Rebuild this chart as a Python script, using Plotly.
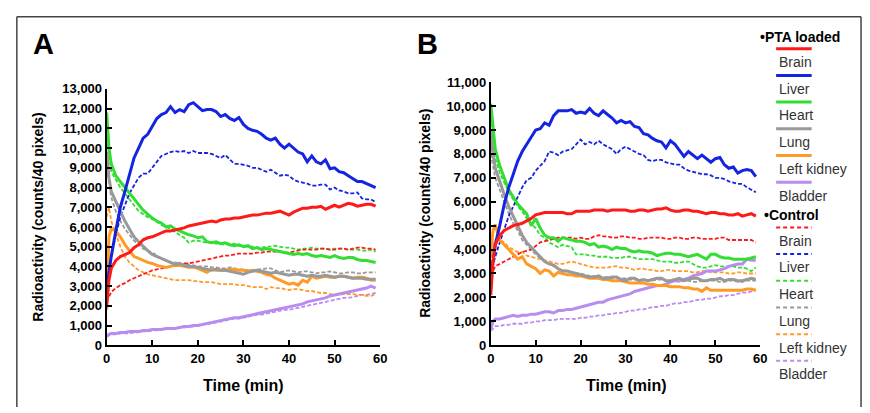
import plotly.graph_objects as go

# time points (min), shared by all curves
T = [0, 0.5] + list(range(1, 60))

organs = ["Brain", "Liver", "Heart", "Lung", "Left kidney", "Bladder"]
colors = ["#ff1a1a", "#1424e0", "#33dd33", "#999999", "#ff9a26", "#b98cf0"]

# ---- panel A ----
a_brain_pta = [2000, 3300,
    3900, 4300, 4500, 4600, 4700, 4950, 5100, 5350, 5450, 5500,
    5600, 5700, 5800, 5800, 5850, 5900, 5950, 6050, 6100, 6150,
    6200, 6250, 6300, 6250, 6350, 6400, 6400, 6450, 6450, 6500,
    6550, 6600, 6600, 6650, 6700, 6700, 6750, 6800, 6700, 6600,
    6750, 6850, 6950, 6950, 7000, 7000, 7050, 6900, 7000, 7100,
    7000, 7100, 7200, 7150, 7050, 7100, 7150, 7150, 7050]
a_liver_pta = [2900, 3800,
    4500, 5800, 7000, 7800, 8700, 9500, 10000, 10500, 10700, 11100,
    11500, 11700, 11800, 12100, 11800, 11950, 11850, 12200, 12300, 12100,
    11900, 11950, 11950, 11850, 11600, 11700, 11500, 11400, 11550, 11200,
    11000, 10900, 10850, 10700, 10500, 10400, 10500, 10200, 10000, 10200,
    10000, 9800, 9700, 9300, 9600, 9300, 9200, 9400, 8950, 9000,
    8800, 8750, 8600, 8450, 8300, 8300, 8200, 8100, 8000]
a_heart_pta = [11800, 10000,
    9200, 8600, 8300, 8000, 7700, 7400, 7100, 6850, 6650, 6450,
    6300, 6200, 6000, 6050, 5900, 5800, 5700, 5600, 5550, 5450,
    5500, 5250, 5200, 5250, 5150, 5200, 5100, 5050, 5100, 5000,
    5050, 4900, 4950, 4850, 4900, 4850, 4800, 4750, 4700, 4650,
    4600, 4650, 4600, 4650, 4550, 4500, 4550, 4500, 4450, 4550,
    4450, 4400, 4450, 4450, 4350, 4300, 4300, 4250, 4200]
a_lung_pta = [9800, 8500,
    7800, 7300, 6800, 6300, 5900, 5500, 5250, 5000, 4800, 4600,
    4500, 4400, 4300, 4200, 4100, 4150, 4050, 4000, 4000, 3950,
    3900, 3850, 3800, 3850, 3800, 3800, 3750, 3700, 3650, 3600,
    3700, 3750, 3800, 3750, 3700, 3650, 3700, 3650, 3600, 3550,
    3600, 3600, 3550, 3500, 3550, 3500, 3500, 3550, 3500, 3450,
    3500, 3500, 3450, 3400, 3400, 3400, 3350, 3350, 3350]
a_kidney_pta = [1800, 5500,
    5900, 5800, 5500, 5100, 4800, 4500, 4400, 4300, 4200, 4150,
    4050, 4000, 3950, 4000, 4050, 4050, 4000, 3950, 3950, 3900,
    3800, 3700, 3850, 3800, 3800, 3800, 3850, 3850, 3800, 3800,
    3750, 3800, 3750, 3700, 3600, 3550, 3400, 3300, 3200, 3100,
    3150, 3050, 3300, 3200, 3500, 3400, 3450, 3500, 3450, 3450,
    3500, 3500, 3450, 3400, 3450, 3450, 3400, 3300, 3300]
a_bladder_pta = [450, 550,
    600, 600, 650, 650, 700, 700, 700, 750, 750, 800,
    800, 800, 850, 850, 850, 900, 950, 950, 1000, 1000,
    1050, 1100, 1150, 1200, 1250, 1300, 1350, 1400, 1400, 1450,
    1500, 1550, 1600, 1650, 1700, 1750, 1800, 1850, 1900, 1950,
    2000, 2050, 2100, 2200, 2250, 2300, 2350, 2400, 2500, 2550,
    2600, 2650, 2700, 2750, 2800, 2850, 2900, 3000, 2900]

a_brain_ctl = [2200, 2500,
    2700, 2900, 3050, 3150, 3300, 3400, 3500, 3600, 3700, 3800,
    3850, 3900, 3950, 4000, 4050, 4100, 4150, 4150, 4200, 4250,
    4300, 4350, 4400, 4450, 4500, 4550, 4550, 4600, 4650, 4650,
    4650, 4650, 4700, 4700, 4750, 4750, 4750, 4750, 4700, 4700,
    4750, 4800, 4850, 4850, 4850, 4850, 4900, 4900, 4850, 4850,
    4900, 4900, 4850, 4900, 4950, 4950, 4900, 4900, 4850]
a_liver_ctl = [3000, 3800,
    4500, 5600, 6500, 7100, 7700, 8100, 8500, 8700, 8700, 9000,
    9300, 9600, 9700, 9800, 9850, 9800, 9850, 9750, 9850, 9750,
    9750, 9750, 9700, 9600, 9500, 9650, 9400, 9200, 9200, 9150,
    9100, 9000, 9000, 8900, 8800, 8900, 8750, 8600, 8650, 8600,
    8400, 8300, 8250, 8200, 8100, 8100, 8150, 8150, 7900, 8000,
    7850, 7800, 7700, 7700, 7750, 7450, 7400, 7400, 7250]
a_heart_ctl = [10500, 9500,
    8800, 8400, 8000, 7700, 7400, 7100, 6800, 6650, 6500, 6400,
    6250, 6100, 6000, 5900, 5750, 5600, 5450, 5200, 5300, 5300,
    5250, 5200, 5200, 5150, 5150, 5100, 5100, 5150, 5050, 5000,
    5000, 5000, 4950, 4950, 5000, 5000, 5050, 5000, 4950, 4950,
    4900, 4850, 4900, 4900, 4950, 4900, 4900, 4900, 4850, 4900,
    4900, 4900, 4850, 4850, 4850, 4800, 4800, 4850, 4750]
a_lung_ctl = [9000, 8200,
    7500, 6800, 6300, 5900, 5600, 5300, 5100, 4900, 4800, 4700,
    4550, 4400, 4300, 4200, 4200, 4150, 4100, 4100, 4050, 4000,
    4000, 4000, 3950, 3950, 3900, 3900, 3950, 3900, 3850, 3850,
    3800, 3800, 3850, 3850, 3900, 3900, 3800, 3700, 3750, 3800,
    3750, 3700, 3750, 3750, 3700, 3650, 3700, 3700, 3750, 3700,
    3650, 3650, 3700, 3700, 3650, 3650, 3700, 3700, 3700]
a_kidney_ctl = [6500, 7000,
    6300, 5600, 5000, 4500, 4200, 4000, 3800, 3700, 3600, 3550,
    3500, 3450, 3400, 3350, 3300, 3300, 3300, 3300, 3250, 3250,
    3200, 3200, 3200, 3150, 3100, 3100, 3100, 3100, 3050, 3050,
    3000, 2950, 2950, 2950, 2850, 2950, 2900, 2900, 2850, 2800,
    2850, 2850, 2800, 2750, 2750, 2700, 2650, 2650, 2600, 2550,
    2550, 2600, 2600, 2600, 2550, 2550, 2500, 2500, 2600]
a_bladder_ctl = [450, 500,
    550, 550, 600, 600, 600, 650, 650, 700, 700, 750,
    750, 800, 800, 850, 850, 900, 900, 950, 950, 1000,
    1050, 1100, 1100, 1150, 1200, 1250, 1300, 1350, 1350, 1400,
    1450, 1500, 1550, 1550, 1600, 1650, 1700, 1750, 1800, 1800,
    1850, 1900, 1950, 2000, 2050, 2100, 2150, 2200, 2250, 2300,
    2350, 2400, 2400, 2450, 2500, 2550, 2550, 2600, 2650]

# ---- panel B ----
b_brain_pta = [2100, 3500,
    4200, 4600, 4800, 4900, 5000, 5050, 5100, 5200, 5300, 5450,
    5500, 5550, 5550, 5550, 5550, 5550, 5500, 5500, 5600, 5600,
    5600, 5600, 5650, 5650, 5650, 5600, 5650, 5650, 5650, 5650,
    5600, 5600, 5650, 5650, 5600, 5650, 5700, 5700, 5750, 5650,
    5600, 5600, 5650, 5650, 5600, 5600, 5550, 5500, 5550, 5550,
    5500, 5500, 5450, 5450, 5500, 5400, 5450, 5500, 5400]
b_liver_pta = [2800, 3600,
    4200, 5000, 5900, 6600, 7200, 7700, 8100, 8400, 8700, 9000,
    9050, 9300, 9200, 9600, 9800, 9800, 9800, 9850, 9700, 9750,
    9700, 9900, 9700, 9600, 9800, 9650, 9500, 9300, 9400, 9300,
    9350, 9150, 9100, 8850, 8800, 8650, 8550, 8500, 8250, 8550,
    8400, 8150, 7900, 8100, 7950, 7800, 7950, 7800, 7650, 7800,
    7850, 7550, 7400, 7450, 7200, 7300, 7350, 7300, 7050]
b_heart_pta = [10100, 9000,
    8200, 7500, 7000, 6500, 6200, 5900, 5700, 5500, 5000, 5300,
    4900, 4600, 4500, 4500, 4350, 4500, 4450, 4400, 4350, 4350,
    4300, 4200, 4250, 4100, 4150, 4100, 4000, 4100, 4050, 4050,
    3950, 3900, 3950, 3900, 3900, 3850, 3750, 3800, 3850, 3850,
    3800, 3800, 3750, 3700, 3750, 3800, 3700, 3600, 3800, 3800,
    3700, 3650, 3650, 3600, 3600, 3600, 3600, 3650, 3700]
b_lung_pta = [9000, 8000,
    7400, 6800, 6300, 5800, 5400, 5000, 4600, 4300, 4100, 3900,
    3700, 3500, 3400, 3350, 3200, 3100, 3100, 3050, 3000, 2950,
    2900, 2850, 2850, 2900, 2800, 2800, 2850, 2850, 2750, 2700,
    2800, 2800, 2700, 2750, 2700, 2750, 2800, 2800, 2700, 2700,
    2750, 2800, 2700, 2750, 2800, 2800, 2700, 2700, 2750, 2750,
    2800, 2700, 2750, 2750, 2700, 2700, 2750, 2800, 2750]
b_kidney_pta = [3800, 4800,
    5050, 4400, 4200, 4000, 3800, 3600, 3700, 3400, 3300, 3200,
    3000, 3150, 3100, 2900, 3050, 3000, 2950, 2950, 2900, 2900,
    2850, 2800, 2800, 2800, 2750, 2750, 2700, 2700, 2700, 2650,
    2600, 2600, 2600, 2600, 2550, 2550, 2500, 2500, 2500, 2450,
    2450, 2450, 2400, 2400, 2350, 2350, 2250, 2400, 2300, 2300,
    2300, 2300, 2300, 2300, 2300, 2300, 2350, 2350, 2300]
b_bladder_pta = [700, 1000,
    1100, 1100, 1150, 1200, 1250, 1200, 1250, 1250, 1300, 1300,
    1350, 1400, 1400, 1350, 1450, 1450, 1500, 1500, 1550, 1600,
    1650, 1700, 1750, 1800, 1800, 1900, 1950, 2000, 2050, 2100,
    2150, 2250, 2300, 2350, 2400, 2450, 2500, 2500, 2550, 2650,
    2700, 2700, 2750, 2800, 2900, 2950, 3000, 3100, 3100, 3100,
    3150, 3200, 3300, 3350, 3400, 3400, 3600, 3550, 3550]

b_brain_ctl = [2900, 3100,
    3300, 3400, 3500, 3600, 3700, 3800, 3900, 3950, 4000, 4150,
    4300, 4350, 4400, 4450, 4500, 4500, 4500, 4500, 4450, 4500,
    4450, 4450, 4550, 4600, 4550, 4550, 4500, 4500, 4550, 4550,
    4500, 4500, 4450, 4450, 4500, 4500, 4500, 4500, 4450, 4450,
    4500, 4500, 4450, 4450, 4500, 4500, 4450, 4450, 4450, 4450,
    4500, 4500, 4400, 4400, 4400, 4400, 4400, 4400, 4300]
b_liver_ctl = [3000, 3400,
    3700, 4300, 4900, 5400, 5800, 6200, 6600, 6900, 7000, 7300,
    7500, 7700, 8100, 8050, 7950, 8100, 8150, 8200, 8400, 8600,
    8400, 8500, 8400, 8550, 8400, 8300, 8200, 8000, 8200, 8300,
    8200, 8100, 8000, 7950, 7750, 7700, 7750, 7750, 7650, 7600,
    7550, 7550, 7400, 7300, 7250, 7200, 7150, 7150, 7100, 7000,
    7000, 6950, 6850, 6800, 6750, 6750, 6600, 6500, 6400]
b_heart_ctl = [9300, 8500,
    7800, 7200, 6800, 6400, 6100, 5800, 5600, 5300, 5100, 4900,
    4600, 4500, 4300, 4200, 4100, 4200, 4150, 4100, 3800, 3800,
    3800, 3750, 3750, 3700, 3700, 3700, 3650, 3650, 3650, 3700,
    3700, 3650, 3600, 3600, 3600, 3600, 3550, 3500, 3500, 3500,
    3450, 3450, 3500, 3500, 3400, 3300, 3250, 3250, 3300, 3350,
    3300, 3300, 3300, 3300, 3250, 3250, 3200, 3100, 3250]
b_lung_ctl = [8000, 7400,
    7000, 6500, 6000, 5500, 5100, 4800, 4400, 4200, 4000, 3800,
    3650, 3500, 3400, 3300, 3200, 3150, 3100, 3050, 3000, 3000,
    2950, 2900, 2900, 2850, 2850, 2850, 2800, 2800, 2800, 2800,
    2750, 2750, 2750, 2700, 2700, 2700, 2750, 2750, 2700, 2700,
    2700, 2650, 2700, 2700, 2650, 2650, 2700, 2700, 2700, 2700,
    2650, 2650, 2700, 2700, 2650, 2650, 2700, 2700, 2700]
b_kidney_ctl = [3400, 4200,
    4400, 4400, 4300, 4100, 4000, 3900, 3900, 3750, 3700, 3650,
    3600, 3550, 3500, 3450, 3400, 3400, 3450, 3500, 3450, 3400,
    3350, 3300, 3250, 3250, 3250, 3250, 3300, 3300, 3250, 3250,
    3200, 3150, 3200, 3200, 3150, 3150, 3100, 3100, 3150, 3150,
    3100, 3100, 3100, 3100, 3050, 3050, 3100, 3100, 3050, 3050,
    3050, 3050, 3000, 3000, 3050, 3050, 3000, 3000, 3000]
b_bladder_ctl = [600, 700,
    800, 800, 850, 850, 900, 900, 900, 950, 950, 1000,
    1000, 1050, 1050, 1050, 1100, 1100, 1100, 1100, 1100, 1150,
    1150, 1200, 1200, 1250, 1250, 1300, 1300, 1350, 1350, 1400,
    1450, 1450, 1500, 1500, 1550, 1600, 1600, 1650, 1650, 1700,
    1750, 1750, 1800, 1800, 1850, 1900, 1900, 1950, 1950, 2000,
    2050, 2050, 2100, 2100, 2150, 2200, 2200, 2250, 2300]

a_pta = [a_brain_pta, a_liver_pta, a_heart_pta, a_lung_pta, a_kidney_pta, a_bladder_pta]
a_ctl = [a_brain_ctl, a_liver_ctl, a_heart_ctl, a_lung_ctl, a_kidney_ctl, a_bladder_ctl]
b_pta = [b_brain_pta, b_liver_pta, b_heart_pta, b_lung_pta, b_kidney_pta, b_bladder_pta]
b_ctl = [b_brain_ctl, b_liver_ctl, b_heart_ctl, b_lung_ctl, b_kidney_ctl, b_bladder_ctl]

W, H = 870, 413
FONT = "Liberation Sans, Arial, sans-serif"


def px(x):
    return x / W


def py(y):
    return 1 - y / H


fig = go.Figure()

for panel, (pta, ctl) in enumerate([(a_pta, a_ctl), (b_pta, b_ctl)]):
    xa = "x" if panel == 0 else "x2"
    ya = "y" if panel == 0 else "y2"
    # control curves first (dashed), then PTA loaded on top
    for i in range(5, -1, -1):
        fig.add_trace(go.Scatter(x=T, y=ctl[i], mode="lines", xaxis=xa, yaxis=ya,
                                 line=dict(color=colors[i], width=1.8, dash="4px,2px"),
                                 showlegend=False, hoverinfo="skip"))
    for i in range(5, -1, -1):
        fig.add_trace(go.Scatter(x=T, y=pta[i], mode="lines", xaxis=xa, yaxis=ya,
                                 line=dict(color=colors[i], width=3),
                                 showlegend=False, hoverinfo="skip"))

axis_common = dict(showline=True, linewidth=2, linecolor="black", showgrid=False,
                   zeroline=False, ticks="inside", ticklen=5, tickwidth=2,
                   tickcolor="black",
                   tickfont=dict(family=FONT, size=13, color="black", weight="bold"))

fig.update_layout(
    width=W, height=H,
    margin=dict(l=0, r=0, t=0, b=0),
    paper_bgcolor="white", plot_bgcolor="white",
    font=dict(family=FONT),
    xaxis=dict(domain=[px(104), px(381)], range=[0, 60], dtick=10, anchor="y", **axis_common),
    yaxis=dict(domain=[py(351), py(85)], range=[0, 13000], dtick=1000, tickformat=",",
               anchor="x", **axis_common),
    xaxis2=dict(domain=[px(493), px(766)], range=[0, 60], dtick=10, anchor="y2", **axis_common),
    yaxis2=dict(domain=[py(351), py(78)], range=[0, 11000], dtick=1000, tickformat=",",
                anchor="x2", **axis_common),
)

ann = []
shapes = []


def label(text, x, y, size, bold=False, color="black", xanchor="center", angle=0):
    ann.append(dict(text=text, x=px(x), y=py(y), xref="paper", yref="paper",
                    xanchor=xanchor, yanchor="middle", textangle=angle, showarrow=False,
                    font=dict(family=FONT, size=size, color=color,
                              weight="bold" if bold else "normal")))


# panel letters and axis titles
label("A", 40, 38, 29, bold=True)
label("B", 429, 38, 29, bold=True)
label("Time (min)", 243, 393, 16, bold=True)
label("Time (min)", 630, 393, 16, bold=True)
label("Radioactivity (counts/40 pixels)", 35, 218, 14, bold=True, angle=-90)
label("Radioactivity (counts/40 pixels)", 427, 214, 14, bold=True, angle=-90)

# legend, drawn by hand: swatch above each label
label("•PTA loaded", 764, 31, 14, bold=True, xanchor="left")
label("•Control", 768, 216, 14, bold=True, xanchor="left")
row = 13.85
for y0, dash, lw in [(43.3, "solid", 3), (228.7, "4px,3px", 2)]:
    for i, name in enumerate(organs):
        ly = y0 + i * 2 * row
        shapes.append(dict(type="line", xref="paper", yref="paper",
                           x0=px(782), x1=px(818), y0=py(ly), y1=py(ly),
                           line=dict(color=colors[i], width=lw, dash=dash)))
        label(name, 783, ly + row, 14, color="#333333", xanchor="left")

# figure frame
for x0, y0, x1, y1 in [(13, 10, 868, 10), (13, 10, 13, 415), (868, 10, 868, 415)]:
    shapes.append(dict(type="line", xref="paper", yref="paper",
                       x0=px(x0), x1=px(x1), y0=py(y0), y1=py(y1),
                       line=dict(color="#444444", width=1.5)))

fig.update_layout(annotations=ann, shapes=shapes)

# page body has an 8px default margin and may show scrollbars; drop both
page_fix = ("document.documentElement.style.overflow='hidden';"
            "document.body.style.overflow='hidden';"
            "document.body.style.margin='0';")
fig.write_html("out.html", config={"displayModeBar": False}, post_script=page_fix)
